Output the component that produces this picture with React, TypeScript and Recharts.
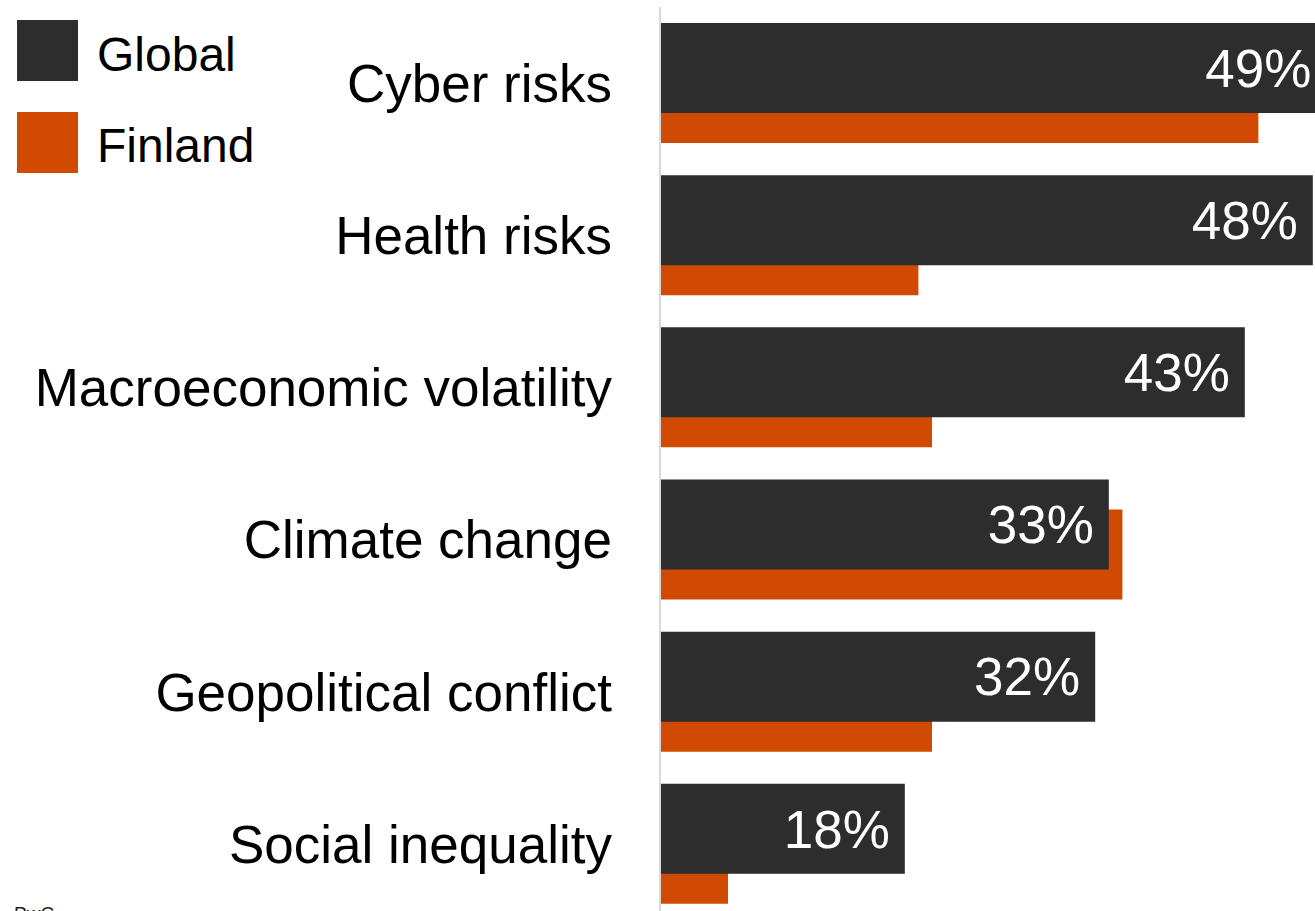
import React from "react";
import { BarChart, Bar, XAxis, YAxis, LabelList } from "recharts";

const categories = [
  "Cyber risks",
  "Health risks",
  "Macroeconomic volatility",
  "Climate change",
  "Geopolitical conflict",
  "Social inequality",
];
const globalValues = [49, 48, 43, 33, 32, 18];
const finlandValues = [44, 19, 20, 34, 20, 5];
const seriesNames = ["Global", "Finland"];
const seriesColors = ["#2d2d2d", "#d04a02"];
const xDomain = [0, 50];

const data = categories.map((c, i) => ({
  category: c,
  global: globalValues[i],
  finland: finlandValues[i],
}));

const FONT = "'Liberation Sans', Arial, sans-serif";

export default function App() {
  return (
    <div
      style={{
        position: "fixed",
        left: 0,
        top: 0,
        width: 1315,
        height: 911,
        overflow: "hidden",
        background: "#fff",
        fontFamily: FONT,
      }}
    >
      <BarChart
        layout="vertical"
        width={1340}
        height={920}
        data={data}
        margin={{ top: 7, right: 0, bottom: 0, left: 0 }}
        barSize={90}
        barGap={-60}
      >
        <XAxis type="number" domain={xDomain} hide />
        <YAxis yAxisId="back" type="category" dataKey="category" hide width={0} />
        <YAxis
          yAxisId="front"
          type="category"
          dataKey="category"
          width={660}
          interval={0}
          axisLine={{ stroke: "#d9d9d9", strokeWidth: 2 }}
          tickLine={false}
          tickSize={0}
          tickMargin={48}
          tick={{ fontSize: 53, fill: "#000", fontFamily: FONT }}
        />
        <Bar yAxisId="back" dataKey="global" fill="#fff" fillOpacity={0} isAnimationActive={false} />
        <Bar yAxisId="back" dataKey="finland" name={seriesNames[1]} fill={seriesColors[1]} isAnimationActive={false} />
        <Bar yAxisId="front" dataKey="global" name={seriesNames[0]} fill={seriesColors[0]} isAnimationActive={false}>
          <LabelList
            dataKey="global"
            position="insideRight"
            offset={15}
            formatter={(v: any) => `${v}%`}
            style={{ fill: "#fff", fontSize: 53, fontFamily: FONT }}
          />
        </Bar>
        <Bar yAxisId="front" dataKey="finland" fill="#fff" fillOpacity={0} isAnimationActive={false} />
      </BarChart>

      {seriesNames.map((name, i) => (
        <React.Fragment key={name}>
          <div
            style={{
              position: "absolute",
              left: 17,
              top: 20 + i * 92,
              width: 61,
              height: 61,
              background: seriesColors[i],
            }}
          />
          <div
            style={{
              position: "absolute",
              left: 97,
              top: 31 + i * 91,
              fontSize: 48,
              lineHeight: 1,
              color: "#000",
              whiteSpace: "nowrap",
            }}
          >
            {name}
          </div>
        </React.Fragment>
      ))}
      <div
        style={{
          position: "absolute",
          left: 14,
          top: 904,
          fontSize: 19,
          lineHeight: 1,
          color: "#222",
        }}
      >
        PwC
      </div>
    </div>
  );
}
